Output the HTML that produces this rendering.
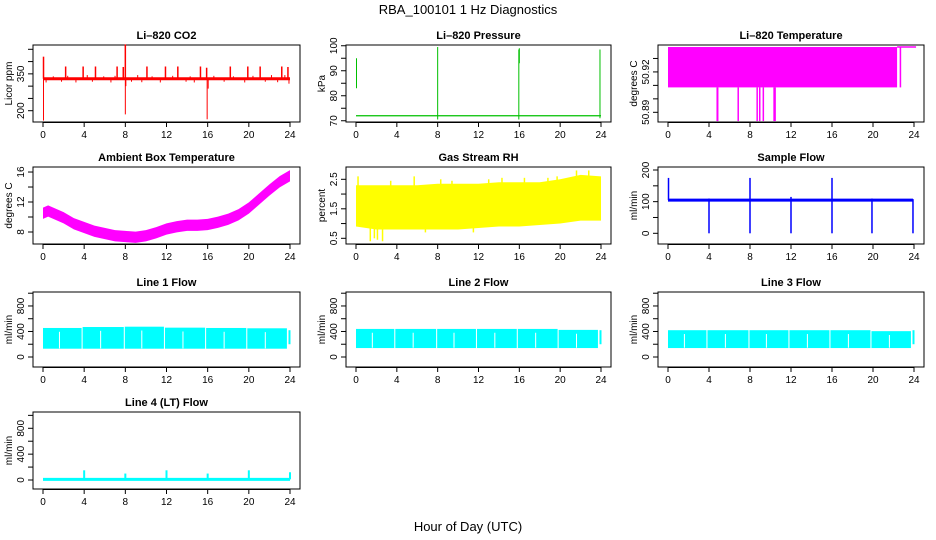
<!DOCTYPE html>
<html><head><meta charset="utf-8">
<style>
html,body{margin:0;padding:0;background:#fff;}
svg{display:block;font-family:"Liberation Sans",Arial,sans-serif;}
</style></head>
<body>
<svg id="chart" width="936" height="540" viewBox="0 0 936 540" xmlns="http://www.w3.org/2000/svg">
<text x="468" y="14" font-size="13" text-anchor="middle">RBA_100101  1 Hz Diagnostics</text>
<text x="468" y="531" font-size="13" text-anchor="middle">Hour of Day (UTC)</text>
</svg>
<script>
const xTicks=[0,4,8,12,16,20,24];
// CO2
const co2Base=330;
const co2SpikeT=[0.05,2.2,3.9,5.1,7.2,7.8,8.0,10.1,11.9,13.1,15.3,15.9,18.2,19.9,21.1,23.2,23.8];
const co2SpikeV=[420,380,380,380,380,378,470,380,380,380,380,375,380,380,380,380,378];
const co2DipT=[0.05,8.0,8.05,15.95,16.05,23.9];
const co2DipV=[160,185,300,165,290,310];
const co2NoiseT=[0.3,1.0,1.8,2.4,3.2,4.3,4.8,5.9,6.6,7.0,8.6,9.2,9.6,10.6,11.4,12.6,13.9,14.3,14.7,16.6,17.6,18.5,19.6,20.4,21.6,22.2,22.8,23.5];
const co2NoiseV=[315,340,318,342,315,345,318,340,315,342,318,345,316,340,315,342,318,340,315,342,318,340,315,342,318,345,316,345];
// Pressure
const presBase=72;
const presSegT=[0.05,8.0,15.95,16.0,23.9];
const presSegLo=[83,70.5,70.5,93,71];
const presSegHi=[95,99.5,98.5,99,98.5];
// Li-820 temperature
const tempBandStart=[0,22.6];
const tempBandEnd=[22.35,22.75];
const tempBandTop=50.9385, tempBandBot=50.9085;
const tempDropT=[4.8,4.85,6.85,8.7,8.95,9.3,10.35,10.45,23.2];
const tempDropV=[50.8835,50.8835,50.8835,50.8835,50.8835,50.8835,50.8835,50.8835,50.9085];
// Ambient box temperature
const ambT=[0,0.5,1,2,3,4,5,6,7,8,9,10,11,12,13,14,15,16,17,18,19,20,21,22,23,24];
const ambMid=[10.5,10.8,10.5,9.9,9.1,8.6,8.1,7.8,7.5,7.4,7.3,7.5,7.9,8.4,8.7,8.9,8.9,9.0,9.3,9.7,10.3,11.2,12.4,13.6,14.7,15.5];
const ambHalf=0.75;
// Gas stream RH
const rhT=[0,2,4,6,8,10,12,14,16,18,20,22,24];
const rhHi=[2.3,2.3,2.3,2.3,2.35,2.35,2.35,2.4,2.4,2.4,2.5,2.65,2.6];
const rhLo=[0.9,0.8,0.8,0.8,0.8,0.8,0.85,0.9,0.9,0.95,1.0,1.1,1.1];
const rhSpikeT=[0.2,1.4,1.8,2.1,2.6,3.4,5.7,6.8,8.3,9.4,11.5,13.0,14.3,16.5,18.8,19.7,21.6,22.8];
const rhSpikeV=[2.6,0.4,0.5,0.45,0.4,2.45,2.6,0.7,2.5,2.45,0.7,2.5,2.55,2.55,2.55,2.6,2.8,2.8];
// Sample flow
const sfBase=105;
const sfSpikeT=[0.05,4.0,8.0,12.0,16.0,19.9,23.9];
const sfSpikeLo=[105,0,0,0,0,0,0];
const sfSpikeHi=[175,110,175,115,175,110,108];
// Line flows
const segStart=[0,3.85,7.95,11.85,15.85,19.85];
const segEnd=[3.75,7.85,11.75,15.75,19.75,23.7];
const line1Top=[455,470,475,460,455,450];
const line1Bot=[130,130,130,130,130,130];
const line2Top=[440,440,440,440,440,425];
const line2Bot=[140,140,140,140,140,140];
const line3Top=[420,420,420,420,420,405];
const line3Bot=[140,140,140,140,140,140];
const gapT=[1.6,5.6,9.6,13.6,17.6,21.6];
const line4Base=10;
const line4SpikeT=[4,8,12,16,20,24];
const line4SpikeV=[150,100,150,100,150,120];

const svg=document.getElementById('chart');
const NS='http://www.w3.org/2000/svg';
function mk(tag,attrs,parent){const e=document.createElementNS(NS,tag);for(const k in attrs)e.setAttribute(k,attrs[k]);(parent||svg).appendChild(e);return e;}

function panel(p){
  const g=mk('g',{});
  
  
  const sx=v=>p.x0+10+(v/24)*(p.x1-p.x0-20);
  const sy=v=>p.y1-(v-p.ylim[0])/(p.ylim[1]-p.ylim[0])*(p.y1-p.y0);
  const t=mk('text',{x:(p.x0+p.x1)/2,y:p.y0-6,'font-size':11,'font-weight':'bold','text-anchor':'middle'},g);
  t.textContent=p.title;
  
  
  const box=mk('rect',{x:p.x0,y:p.y0,width:p.x1-p.x0,height:p.y1-p.y0,fill:'none',stroke:'#000','stroke-width':1},g);
  
  
  xTicks.forEach(v=>{
    mk('line',{x1:sx(v),x2:sx(v),y1:p.y1,y2:p.y1+5,stroke:'#000'},g);
    const l=mk('text',{x:sx(v),y:p.y1+16,'font-size':10,'text-anchor':'middle'},g);
    l.textContent=v;
    
    
  });
  mk('line',{x1:sx(0),x2:sx(24),y1:p.y1+0.5,y2:p.y1+0.5,stroke:'#000'},g);
  p.yticks.forEach(v=>{
    mk('line',{x1:p.x0-5,x2:p.x0,y1:sy(v),y2:sy(v),stroke:'#000'},g);
  });
  p.ylabels.forEach(v=>{
    const l=mk('text',{x:0,y:0,'font-size':10,'text-anchor':'middle',transform:`translate(${p.x0-9},${sy(v)}) rotate(-90)`},g);
    l.textContent=v;
    
    
  });
  const yl=mk('text',{x:0,y:0,'font-size':10,'text-anchor':'middle',transform:`translate(${p.x0-21},${(p.y0+p.y1)/2}) rotate(-90)`},g);
  yl.textContent=p.ylab;
  
  
  return {g,sx,sy};
}
function vline(P,x,a,b,col,w){const e=mk('line',{x1:P.sx(x),x2:P.sx(x),y1:P.sy(a),y2:P.sy(b),stroke:col,'stroke-width':w||1},P.g);return e;}
function hline(P,a,b,y,col,w){const e=mk('line',{x1:P.sx(a),x2:P.sx(b),y1:P.sy(y),y2:P.sy(y),stroke:col,'stroke-width':w||1},P.g);return e;}
function rect(P,a,b,lo,hi,col){const e=mk('rect',{x:P.sx(a),y:P.sy(hi),width:P.sx(b)-P.sx(a),height:P.sy(lo)-P.sy(hi),fill:col},P.g);return e;}
function band(P,T,hi,lo,col){let pts=T.map((t,i)=>P.sx(t)+','+P.sy(hi[i]));pts=pts.concat(T.map((t,i)=>P.sx(t)+','+P.sy(lo[i])).reverse());const e=mk('polygon',{points:pts.join(' '),fill:col},P.g);return e;}

const C1=[33,300],C2=[346,611],C3=[658,924];
const R1=[45,122],R2=[167,244],R3=[292,367],R4=[412,489];

// CO2
let P=panel({name:'panel-co2',title:'Li\u2013820 CO2',ylab:'Licor ppm',x0:C1[0],x1:C1[1],y0:R1[0],y1:R1[1],ylim:[154,467.5],yticks:[200,250,300,350,400,450],ylabels:[200,350]});
hline(P,0,24,co2Base,'#ff0000',3);
co2NoiseT.forEach((t,i)=>vline(P,t,co2Base,co2NoiseV[i],'#ff0000',1));
co2SpikeT.forEach((t,i)=>vline(P,t,co2Base,co2SpikeV[i],'#ff0000',1.5));
co2DipT.forEach((t,i)=>vline(P,t,co2Base,co2DipV[i],'#ff0000',1));

// Pressure
P=panel({name:'panel-pressure',title:'Li\u2013820 Pressure',ylab:'kPa',x0:C2[0],x1:C2[1],y0:R1[0],y1:R1[1],ylim:[69.5,100.3],yticks:[70,75,80,85,90,95,100],ylabels:[70,80,90,100]});
hline(P,0,24,presBase,'#00c000',1.2);
presSegT.forEach((t,i)=>vline(P,t,presSegLo[i],presSegHi[i],'#00c000',1));

// Li-820 temperature
P=panel({name:'panel-li820-temperature',title:'Li\u2013820 Temperature',ylab:'degrees C',x0:C3[0],x1:C3[1],y0:R1[0],y1:R1[1],ylim:[50.8828,50.940],yticks:[50.89,50.90,50.91,50.92,50.93],ylabels:['50.89','50.92']});
tempBandStart.forEach((s,i)=>rect(P,s,tempBandEnd[i],tempBandBot,tempBandTop,'#ff00ff'));
hline(P,tempBandEnd[0],24.2,tempBandTop,'#ff00ff',1.5);
tempDropT.forEach((t,i)=>vline(P,t,tempBandBot,tempDropV[i],'#ff00ff',1.5));

// Ambient
P=panel({name:'panel-ambient-temperature',title:'Ambient Box Temperature',ylab:'degrees C',x0:C1[0],x1:C1[1],y0:R2[0],y1:R2[1],ylim:[6.4,16.67],yticks:[8,10,12,14,16],ylabels:[8,12,16]});
band(P,ambT,ambMid.map(v=>v+ambHalf),ambMid.map(v=>v-ambHalf),'#ff00ff');

// RH
P=panel({name:'panel-gas-rh',title:'Gas Stream RH',ylab:'percent',x0:C2[0],x1:C2[1],y0:R2[0],y1:R2[1],ylim:[0.307,2.917],yticks:[0.5,1,1.5,2,2.5],ylabels:['0.5','1.5','2.5']});
band(P,rhT,rhHi,rhLo,'#ffff00');
rhSpikeT.forEach((t,i)=>vline(P,t,1.5,rhSpikeV[i],'#ffff00',1.5));

// Sample flow
P=panel({name:'panel-sample-flow',title:'Sample Flow',ylab:'ml/min',x0:C3[0],x1:C3[1],y0:R2[0],y1:R2[1],ylim:[-33.8,209.5],yticks:[0,50,100,150,200],ylabels:[0,100,200]});
hline(P,0,23.9,sfBase,'#0000ff',3);
sfSpikeT.forEach((t,i)=>vline(P,t,sfSpikeLo[i],sfSpikeHi[i],'#0000ff',1.5));

// Line flows
function linePanel(name,title,col,row,top,bot,ylim){
  const Q=panel({name,title,ylab:'ml/min',x0:col[0],x1:col[1],y0:row[0],y1:row[1],ylim,yticks:[0,200,400,600,800,1000],ylabels:[0,400,800]});
  segStart.forEach((s,i)=>rect(Q,s,segEnd[i],bot[i],top[i],'#00ffff'));
  gapT.forEach((t,i)=>vline(Q,t,bot[i]+5,top[i]-60,'#ffffff',1));
  vline(Q,23.95,200,420,'#00ffff',2);
  return Q;
}
linePanel('panel-line1-flow','Line 1 Flow',C1,R3,line1Top,line1Bot,[-157,1019]);
linePanel('panel-line2-flow','Line 2 Flow',C2,R3,line2Top,line2Bot,[-157,1019]);
linePanel('panel-line3-flow','Line 3 Flow',C3,R3,line3Top,line3Bot,[-157,1019]);

// Line 4
P=panel({name:'panel-line4-flow',title:'Line 4 (LT) Flow',ylab:'ml/min',x0:C1[0],x1:C1[1],y0:R4[0],y1:R4[1],ylim:[-139,1052],yticks:[0,200,400,600,800,1000],ylabels:[0,400,800]});
hline(P,0,24,line4Base,'#00ffff',3);
line4SpikeT.forEach((t,i)=>vline(P,t,line4Base,line4SpikeV[i],'#00ffff',2));
</script>
</body></html>
